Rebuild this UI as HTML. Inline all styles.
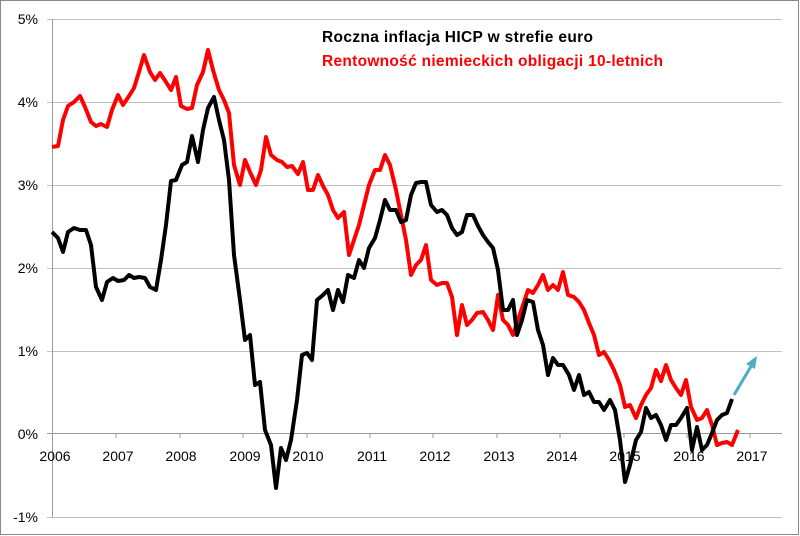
<!DOCTYPE html>
<html><head><meta charset="utf-8"><style>
body{margin:0;background:#fff}
svg{display:block;font-family:"Liberation Sans",sans-serif}
</style></head><body>
<svg width="800" height="536" viewBox="0 0 800 536">
<rect x="0.5" y="0.5" width="798" height="534" fill="#fff" stroke="#888"/>
<g stroke="#c0c0c0" stroke-width="1">
<line x1="47" y1="19.5" x2="782" y2="19.5"/>
<line x1="47" y1="102.5" x2="782" y2="102.5"/>
<line x1="47" y1="185.5" x2="782" y2="185.5"/>
<line x1="47" y1="268.5" x2="782" y2="268.5"/>
<line x1="47" y1="351.5" x2="782" y2="351.5"/>
<line x1="47" y1="517.5" x2="782" y2="517.5"/>
</g>
<line x1="52.5" y1="19" x2="52.5" y2="517" stroke="#999"/>
<line x1="47" y1="433.5" x2="782" y2="433.5" stroke="#999"/>
<g stroke="#999">
<line x1="116" y1="433" x2="116" y2="438"/><line x1="180" y1="433" x2="180" y2="438"/>
<line x1="243" y1="433" x2="243" y2="438"/><line x1="307" y1="433" x2="307" y2="438"/>
<line x1="370" y1="433" x2="370" y2="438"/><line x1="433" y1="433" x2="433" y2="438"/>
<line x1="497" y1="433" x2="497" y2="438"/><line x1="560" y1="433" x2="560" y2="438"/>
<line x1="624" y1="433" x2="624" y2="438"/><line x1="687" y1="433" x2="687" y2="438"/>
<line x1="750" y1="433" x2="750" y2="438"/>
</g>
<g font-size="14" fill="#000" text-anchor="end">
<text x="38" y="24">5%</text><text x="38" y="107">4%</text><text x="38" y="190">3%</text>
<text x="38" y="273">2%</text><text x="38" y="356">1%</text><text x="38" y="439">0%</text>
<text x="38" y="522">-1%</text>
</g>
<g font-size="14" fill="#000" text-anchor="middle">
<text x="55" y="461">2006</text><text x="118" y="461">2007</text><text x="181" y="461">2008</text>
<text x="245" y="461">2009</text><text x="308" y="461">2010</text><text x="372" y="461">2011</text>
<text x="435" y="461">2012</text><text x="499" y="461">2013</text><text x="562" y="461">2014</text>
<text x="625" y="461">2015</text><text x="689" y="461">2016</text><text x="752" y="461">2017</text>
</g>
<text x="322" y="42" font-size="15.5" font-weight="bold" fill="#000" textLength="271">Roczna inflacja  HICP w strefie euro</text>
<text x="322" y="66" font-size="15.5" font-weight="bold" fill="#ff0000" textLength="341">Rentowność niemieckich obligacji 10-letnich</text>
<polyline fill="none" stroke="#ff0000" stroke-width="4" stroke-linejoin="round" points="52,147 58,146 63,120 68,106 74,102 80,96 85,107 91,122 96,126 101,124 107,127 112,110 118,95 123,105 129,96 134,88 139,72 144,55 150,72 155,80 160,73 166,82 171,90 176,77 181,106 187,109 192,108 197,85 203,72 208,50 213,70 219,90 224,100 229,113 234,165 240,185 245,160 250,172 256,185 261,170 266,137 271,155 277,160 282,162 287,167 292,166 298,174 303,162 308,190 313,190 318,175 323,186 328,195 333,210 338,218 344,212 349,255 354,240 359,225 364,205 369,185 375,170 380,170 385,155 390,165 396,190 401,215 406,240 411,275 416,265 421,260 426,245 431,280 437,285 442,283 447,283 452,297 457,335 462,305 467,325 472,320 477,313 483,312 488,320 493,330 498,295 503,320 508,325 513,335 518,320 523,305 528,290 533,293 538,285 543,275 548,290 553,285 558,290 563,272 568,295 574,297 579,302 584,310 589,323 594,335 599,355 604,352 609,360 614,370 620,385 625,407 630,405 636,418 641,405 646,395 651,388 656,370 661,381 666,365 671,380 676,388 681,395 686,380 691,407 697,420 702,418 707,410 712,425 717,445 722,443 727,442 732,445 738,430"/>
<polyline fill="none" stroke="#000" stroke-width="4" stroke-linejoin="round" points="52,232 58,238 63,252 68,232 74,228 80,230 86,230 91,245 96,287 102,300 107,282 113,278 118,281 124,280 129,275 134,278 139,277 145,278 150,287 156,290 161,260 166,225 171,181 176,180 182,165 187,162 192,136 198,162 203,130 208,108 214,97 219,120 224,140 229,180 234,255 240,300 245,340 250,335 255,385 260,382 265,430 271,445 276,488 281,448 286,460 291,440 297,400 302,355 307,353 312,360 317,300 323,295 328,290 333,310 338,290 343,302 348,275 354,278 359,260 364,268 369,248 375,238 380,220 385,200 390,210 396,210 401,222 406,220 411,195 416,183 421,182 426,182 431,205 437,212 442,210 447,215 452,228 457,235 462,232 467,215 473,215 478,226 483,235 488,242 493,248 498,270 503,310 508,310 513,300 517,335 522,320 527,300 533,302 538,330 543,345 548,375 553,358 558,365 563,365 569,375 574,390 579,375 584,395 589,392 594,402 599,402 604,410 610,400 615,410 620,440 625,482 630,465 636,440 641,432 646,408 651,418 656,415 661,425 666,440 671,425 676,425 681,418 687,408 692,450 697,427 702,450 707,445 712,433 717,420 722,415 727,413 732,399"/>
<line x1="734" y1="395" x2="753" y2="363" stroke="#4bacc6" stroke-width="3"/>
<polygon points="757,356 746,364 755,369" fill="#4bacc6"/>
</svg>
</body></html>
